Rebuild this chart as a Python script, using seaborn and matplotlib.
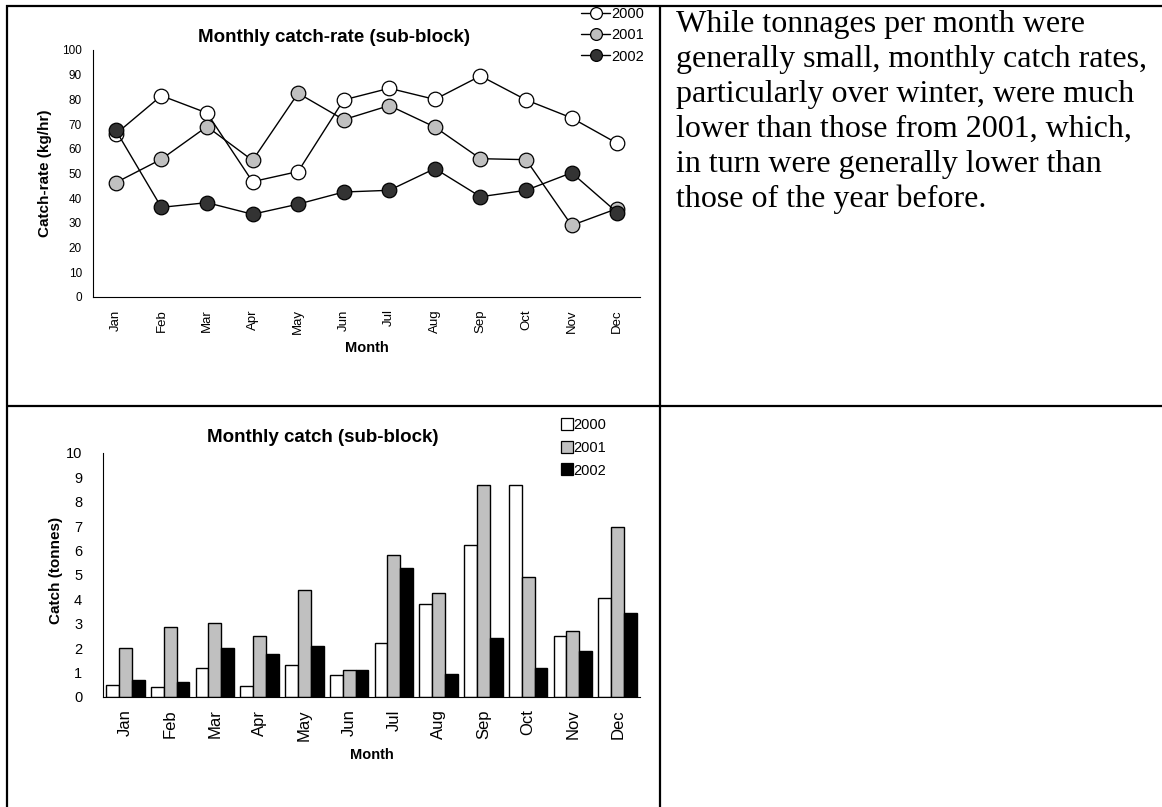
import numpy as np
import pandas as pd
import matplotlib
matplotlib.use("Agg")
import matplotlib.pyplot as plt
from matplotlib.lines import Line2D
import seaborn as sns

# ---------------- data ----------------
months = ["Jan", "Feb", "Mar", "Apr", "May", "Jun", "Jul", "Aug", "Sep", "Oct", "Nov", "Dec"]
years = ["2000", "2001", "2002"]

rate_2000 = [66.0, 81.5, 74.5, 46.7, 50.8, 79.8, 84.5, 80.0, 89.5, 79.8, 72.5, 62.2]
rate_2001 = [46.3, 55.8, 69.0, 55.3, 82.5, 71.8, 77.5, 68.8, 56.0, 55.6, 29.0, 35.8]
rate_2002 = [67.5, 36.3, 38.2, 33.5, 37.6, 42.5, 43.2, 52.0, 40.6, 43.2, 50.3, 34.2]

catch_2000 = [0.50, 0.40, 1.20, 0.45, 1.30, 0.90, 2.20, 3.80, 6.25, 8.70, 2.50, 4.05]
catch_2001 = [2.00, 2.85, 3.05, 2.50, 4.40, 1.10, 5.80, 4.25, 8.70, 4.90, 2.70, 6.95]
catch_2002 = [0.70, 0.60, 2.00, 1.75, 2.10, 1.10, 5.30, 0.95, 2.40, 1.20, 1.90, 3.45]

text_lines = [
    "While tonnages per month were",
    "generally small, monthly catch rates,",
    "particularly over winter, were much",
    "lower than those from 2001, which,",
    "in turn were generally lower than",
    "those of the year before.",
]

rates = {"2000": rate_2000, "2001": rate_2001, "2002": rate_2002}
catches = {"2000": catch_2000, "2001": catch_2001, "2002": catch_2002}

marker_faces = {"2000": "white", "2001": "#c0c0c0", "2002": "#333333"}
bar_colors = {"2000": "white", "2001": "#c0c0c0", "2002": "black"}

# ---------------- style ----------------
sns.set_style("white")
plt.rcParams["font.family"] = ["Liberation Sans", "DejaVu Sans"]
for k in ["text.color", "axes.labelcolor", "xtick.color", "ytick.color", "axes.edgecolor"]:
    plt.rcParams[k] = "black"

W, H = 1162, 807
fig = plt.figure(figsize=(W / 100, H / 100), dpi=100)


def fx(px):
    return px / W


def fy(py):
    return 1 - py / H


# ---------------- table borders ----------------
border_kw = dict(color="black", lw=1.6, transform=fig.transFigure, solid_capstyle="butt")
fig.add_artist(Line2D([fx(5.5), fx(1162)], [fy(5.5), fy(5.5)], **border_kw))
fig.add_artist(Line2D([fx(6.5), fx(6.5)], [fy(4.5), fy(807)], **border_kw))
fig.add_artist(Line2D([fx(659.5), fx(659.5)], [fy(4.5), fy(807)], **border_kw))
fig.add_artist(Line2D([fx(5.5), fx(1162)], [fy(405.5), fy(405.5)], **border_kw))

# ---------------- line chart ----------------
ax1 = fig.add_axes([fx(93), fy(297), (640 - 93) / W, (297 - 50) / H])
for y in years:
    df = pd.DataFrame({"Month": months, "Rate": rates[y]})
    sns.lineplot(data=df, x="Month", y="Rate", ax=ax1, sort=False, color="black", lw=1.0,
                 marker="o", markersize=10.5, markerfacecolor=marker_faces[y],
                 markeredgecolor="black", markeredgewidth=0.9, legend=False)

ax1.set_xlim(-0.5, 11.5)
ax1.set_ylim(0, 100)
ax1.set_yticks(np.arange(0, 101, 10))
ax1.set_xticks(range(12))
ax1.set_xticklabels(months, rotation=90, fontsize=9.5)
ax1.set_xticks(np.arange(-0.5, 12, 1), minor=True)
ax1.tick_params(axis="x", which="major", length=0, pad=9)
ax1.tick_params(axis="x", which="minor", length=3.5, direction="in", width=0.8, color="black")
ax1.tick_params(axis="y", which="major", length=3.5, direction="in", width=0.8, color="black",
                labelsize=8.5, pad=8)
for s in ["top", "right"]:
    ax1.spines[s].set_visible(False)
for s in ["left", "bottom"]:
    ax1.spines[s].set_color("black")
    ax1.spines[s].set_linewidth(0.8)
ax1.set_xlabel("Month", fontsize=10.5, fontweight="bold")
ax1.set_ylabel("Catch-rate (kg/hr)", fontsize=11, fontweight="bold")
ax1.xaxis.set_label_coords(0.5, (297 - 348) / 247)
ax1.xaxis.label.set_va("center")
ax1.yaxis.set_label_coords((45 - 93) / 547, 0.5)
ax1.yaxis.label.set_va("center")

fig.text(fx(334), fy(37), "Monthly catch-rate (sub-block)", ha="center", va="center",
         fontsize=13.5, fontweight="bold")

line_handles = [
    Line2D([0], [0], color="black", lw=1.0, marker="o", markersize=8.5,
           markerfacecolor=marker_faces[y], markeredgecolor="black", markeredgewidth=0.9)
    for y in years
]
fig.legend(line_handles, years, loc="upper left", bbox_to_anchor=(fx(581), fy(7)),
           frameon=False, fontsize=10.5, handlelength=2.0, handletextpad=0.1,
           labelspacing=0.5, borderpad=0, borderaxespad=0)

# ---------------- bar chart ----------------
ax2 = fig.add_axes([fx(103), fy(697), (640 - 103) / W, (697 - 453) / H])
bar_df = pd.DataFrame({
    "Month": months * 3,
    "Catch": catch_2000 + catch_2001 + catch_2002,
    "Year": [y for y in years for _ in months],
})
sns.barplot(data=bar_df, x="Month", y="Catch", hue="Year", hue_order=years, order=months,
            palette=bar_colors, saturation=1, edgecolor="black", linewidth=1.0,
            width=0.86, ax=ax2, legend=False)

ax2.set_xlim(-0.5, 11.5)
ax2.set_ylim(0, 10)
ax2.set_yticks(np.arange(0, 11, 1))
ax2.set_xticks(range(12))
ax2.set_xticklabels(months, rotation=90, fontsize=12)
ax2.set_xticks(np.arange(-0.5, 12, 1), minor=True)
ax2.tick_params(axis="x", which="major", length=0, pad=9)
ax2.tick_params(axis="x", which="minor", length=3.5, direction="in", width=0.8, color="black")
ax2.tick_params(axis="y", which="major", length=3.5, direction="in", width=0.8, color="black",
                labelsize=10.5, pad=15)
for s in ["top", "right"]:
    ax2.spines[s].set_visible(False)
for s in ["left", "bottom"]:
    ax2.spines[s].set_color("black")
    ax2.spines[s].set_linewidth(0.8)
ax2.set_xlabel("Month", fontsize=10.5, fontweight="bold")
ax2.set_ylabel("Catch (tonnes)", fontsize=11, fontweight="bold")
ax2.xaxis.set_label_coords(0.5, (697 - 755) / 244)
ax2.xaxis.label.set_va("center")
ax2.yaxis.set_label_coords((56 - 103) / 537, 0.52)
ax2.yaxis.label.set_va("center")

fig.text(fx(323), fy(437), "Monthly catch (sub-block)", ha="center", va="center",
         fontsize=13.5, fontweight="bold")

bar_handles = [
    Line2D([0], [0], lw=0, marker="s", markersize=8, markerfacecolor=bar_colors[y],
           markeredgecolor="black", markeredgewidth=0.9)
    for y in years
]
fig.legend(bar_handles, years, loc="upper left", bbox_to_anchor=(fx(561), fy(418)),
           frameon=False, fontsize=10.5, handlelength=0.8, handletextpad=0.05,
           labelspacing=0.6, borderpad=0, borderaxespad=0)

# ---------------- right-hand text ----------------
baseline0, step = 32, 35
for i, line in enumerate(text_lines):
    fig.text(fx(676), fy(baseline0 + i * step), line, ha="left", va="baseline",
             fontsize=23, color="black", family=["Liberation Serif", "DejaVu Serif"])

fig.savefig("out.png", dpi=100)
